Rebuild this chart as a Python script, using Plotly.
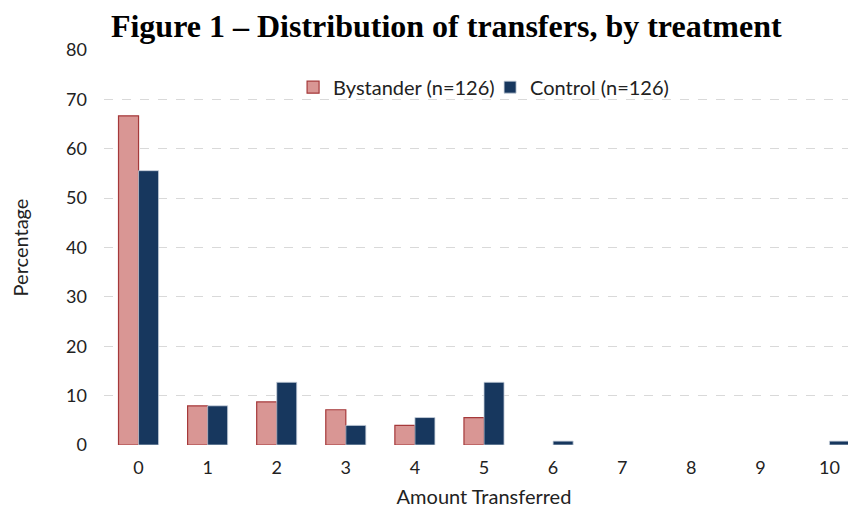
import plotly.graph_objects as go

categories = ["0", "1", "2", "3", "4", "5", "6", "7", "8", "9", "10"]
bystander = [66.67, 7.94, 8.73, 7.14, 3.97, 5.56, None, None, None, None, None]
control = [55.56, 7.94, 12.70, 3.97, 5.56, 12.70, 0.79, None, None, None, 0.79]
y_ticks = [0, 10, 20, 30, 40, 50, 60, 70, 80]

font_main = "Lato, Open Sans, sans-serif"

fig = go.Figure()
fig.add_trace(go.Bar(
    x=categories, y=bystander, name="Bystander (n=126)",
    marker=dict(color="#D99694", line=dict(color="#A5393A", width=1.2)),
))
fig.add_trace(go.Bar(
    x=categories, y=control, name="Control (n=126)",
    marker=dict(color="#17375E", line=dict(color="#C8D0DC", width=0.8)),
))

fig.update_layout(
    width=856, height=511,
    paper_bgcolor="white", plot_bgcolor="white",
    margin=dict(l=96, r=0, t=42, b=74),
    barmode="group", bargap=0.42, bargroupgap=0.0,
    title=dict(
        text="<b>Figure 1 – Distribution of transfers, by treatment</b>",
        font=dict(family="Liberation Serif, Times New Roman, serif", size=32, color="black"),
        x=0.512, xanchor="center", y=0.987, yanchor="top",
    ),
    font=dict(family=font_main, size=18, color="#222"),
    legend=dict(
        orientation="h", x=0.508, xanchor="center", y=0.906, yanchor="middle",
        font=dict(size=20, family=font_main), bgcolor="rgba(0,0,0,0)",
        itemwidth=30, traceorder="normal",
        entrywidth=152, entrywidthmode="pixels",
    ),
    xaxis=dict(
        range=[-0.5, 10.5], showgrid=False, zeroline=False, showline=False,
        ticks="", tickfont=dict(size=18), ticklabelstandoff=10,
        title=dict(text="Amount Transferred", font=dict(size=20), standoff=12),
    ),
    yaxis=dict(
        range=[0, 80], tickvals=y_ticks, showgrid=True,
        gridcolor="#D9D9D9", griddash="dash", gridwidth=1,
        zeroline=False, showline=False, ticks="",
        tickfont=dict(size=18), ticklabelstandoff=16,
        title=dict(text="Percentage", font=dict(size=20), standoff=34),
    ),
)

fig.write_html("out.html")
